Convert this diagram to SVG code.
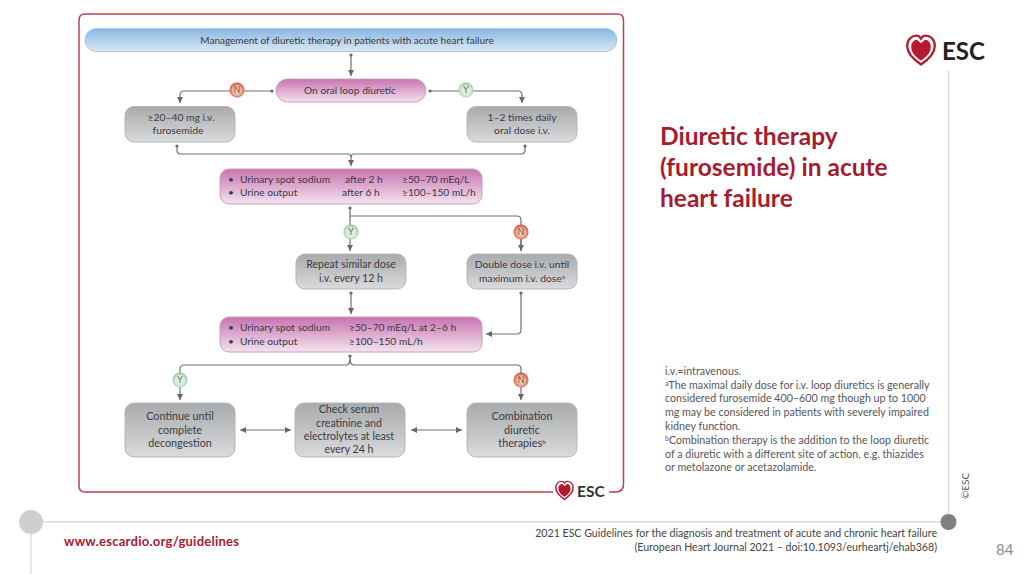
<svg xmlns="http://www.w3.org/2000/svg" width="1024" height="574" viewBox="0 0 1024 574">
<style>
text{font-family:Lato,"Liberation Sans",sans-serif;fill:#3a3a44}
.n{font-size:10.3px;text-anchor:middle}
.m{font-size:10.6px;text-anchor:middle}
.w{font-size:10.8px;text-anchor:middle}
.b{font-size:10.2px}
.c{fill:none;stroke:#6f7072;stroke-width:1.2}
.g{fill:url(#gray);stroke:#b4b6b8;stroke-width:1}
.p{fill:url(#pink);stroke:#c9a0c0;stroke-width:1}
.f{font-size:10.7px;fill:#55565a}
.l{font-size:8.5px;text-anchor:middle;fill:#6b5a50}
.hl{stroke:#dcdcdc;stroke-width:1.4;fill:none}
</style>
<defs>
<linearGradient id="gray" x1="0" y1="0" x2="0" y2="1"><stop offset="0" stop-color="#a9aaac"/><stop offset="1" stop-color="#dadbdc"/></linearGradient>
<linearGradient id="pink" x1="0" y1="0" x2="0" y2="1"><stop offset="0" stop-color="#c873b0"/><stop offset="1" stop-color="#f3e3ef"/></linearGradient>
<linearGradient id="blue" x1="0" y1="0" x2="0" y2="1"><stop offset="0" stop-color="#86b6e2"/><stop offset="1" stop-color="#dce9f5"/></linearGradient>
<radialGradient id="red" cx=".5" cy=".55" r=".55"><stop offset="0" stop-color="#f6e3da"/><stop offset=".6" stop-color="#eaa78e"/><stop offset="1" stop-color="#c9492c"/></radialGradient>
<radialGradient id="green" cx=".5" cy=".55" r=".55"><stop offset="0" stop-color="#f1f8f1"/><stop offset=".65" stop-color="#cfe8d2"/><stop offset="1" stop-color="#84c08f"/></radialGradient>
<marker id="a" markerWidth="7" markerHeight="6" refX="6" refY="3" orient="auto-start-reverse" markerUnits="userSpaceOnUse"><path d="M0 0L6 3L0 6Z" fill="#66676a"/></marker>
<marker id="d" markerWidth="4" markerHeight="4" refX="2" refY="2" markerUnits="userSpaceOnUse"><circle cx="2" cy="2" r="1.6" fill="#66676a"/></marker>
<g id="heart"><path d="M0 13C-6 9-12 4-12-3C-12-9-8-12-4-12C-2-12-1-11 0-9.500C1-11 2-12 4-12C8-12 12-9 12-3C12 4 6 9 0 13Z" fill="#fff" stroke="#b5182f" stroke-width="2"/><path d="M0 9.500C-4 7-8.500 3-8.500-2.500C-8.500-6-6-8.500-3.500-8.500L0-5.500L3.500-8.500C6-8.500 8.500-6 8.500-2.500C8.500 3 4 7 0 9.500Z" fill="#b5182f"/></g>
</defs>
<rect width="1024" height="574" fill="#fff"/>

<g id="slide-lines">
<path class="hl" d="M31 522H948M31 522V574M948.500 70V522"/>
<circle cx="31" cy="522" r="12" fill="#cfcfcf"/>
<circle cx="948.500" cy="522" r="8" fill="#7f7f7f"/>
</g>

<path id="frame" d="M553 492H85Q79 492 79 486V20Q79 14 85 14H617.500Q623.500 14 623.500 20V484Q623.500 492 615.500 492H609" fill="none" stroke="#b8424f" stroke-width="1.500"/>

<g id="connectors">
<path class="c" marker-start="url(#d)" marker-end="url(#a)" d="M351 55V76"/>
<path class="c" marker-start="url(#d)" marker-end="url(#a)" d="M272 91H184Q180 91 180 95V103"/>
<path class="c" marker-start="url(#d)" marker-end="url(#a)" d="M430 91H518Q522 91 522 95V103"/>
<path class="c" marker-start="url(#d)" d="M177 146V150Q177 154 181 154H348Q351 154 351 157"/>
<path class="c" marker-start="url(#d)" d="M525 146V150Q525 154 521 154H354Q351 154 351 157"/>
<path class="c" marker-end="url(#a)" d="M351 157V166"/>
<path class="c" marker-start="url(#d)" marker-end="url(#a)" d="M350 208V251"/>
<path class="c" d="M350 216H517Q521 216 521 220V251"/>
<path class="c" marker-end="url(#a)" d="M521 232V251"/>
<path class="c" marker-start="url(#d)" marker-end="url(#a)" d="M351 293V314"/>
<path class="c" marker-start="url(#d)" marker-end="url(#a)" d="M521 293V330Q521 334 517 334H486"/>
<path class="c" marker-start="url(#d)" d="M350 356V359Q350 365 354 365H517Q521 365 521 369V376"/>
<path class="c" d="M350 359Q350 365 346 365H184Q180 365 180 369V376"/>
<path class="c" marker-end="url(#a)" d="M180 385V400"/>
<path class="c" marker-end="url(#a)" d="M521 385V400"/>
<path class="c" marker-start="url(#a)" marker-end="url(#a)" d="M240 430H291"/>
<path class="c" marker-start="url(#a)" marker-end="url(#a)" d="M411 430H462"/>
</g>

<g id="n-banner"><rect x="85" y="28.500" width="532" height="23" rx="11.500" fill="url(#blue)" stroke="#a9c9e5"/><text x="347" y="43.500" text-anchor="middle" font-size="10">Management of diuretic therapy in patients with acute heart failure</text></g>
<g id="n-oral"><rect class="p" x="276" y="79" width="150" height="23" rx="11.500"/><text x="350" y="93.500" text-anchor="middle" font-size="10.200">On oral loop diuretic</text></g>
<g id="n-left"><rect class="g" x="125" y="106.500" width="110" height="35.500" rx="9"/><text class="n" x="181" y="120.500">≥20–40 mg i.v.</text><text class="n" x="178" y="133.500">furosemide</text></g>
<g id="n-right"><rect class="g" x="467" y="106.500" width="110" height="35.500" rx="9"/><text class="n" x="522" y="120.500">1–2 times daily</text><text class="n" x="522" y="133.500">oral dose i.v.</text></g>
<g id="n-urine1"><rect class="p" x="220" y="169" width="262" height="35" rx="9"/>
<text class="b" x="228" y="183">•</text><text class="b" x="240" y="183">Urinary spot sodium</text><text class="b" x="345" y="183">after 2 h</text><text class="b" x="402" y="183">≥50–70 mEq/L</text>
<text class="b" x="228" y="196">•</text><text class="b" x="240" y="196">Urine output</text><text class="b" x="342" y="196">after 6 h</text><text class="b" x="402" y="196">≥100–150 mL/h</text></g>
<g id="n-repeat"><rect class="g" x="296" y="254" width="110" height="35" rx="9"/><text class="m" x="351" y="268">Repeat similar dose</text><text class="m" x="351" y="281.500">i.v. every 12 h</text></g>
<g id="n-double"><rect class="g" x="467" y="254" width="110" height="35" rx="9"/><text class="n" x="522" y="268">Double dose i.v. until</text><text class="n" x="522" y="281.500">maximum i.v. dose<tspan font-size="6.500" dy="-3">a</tspan></text></g>
<g id="n-urine2"><rect class="p" x="220" y="317" width="262" height="35" rx="9"/>
<text class="b" x="228" y="331">•</text><text class="b" x="240" y="331">Urinary spot sodium</text><text class="b" x="349" y="331">≥50–70 mEq/L at 2–6 h</text>
<text class="b" x="228" y="345">•</text><text class="b" x="240" y="345">Urine output</text><text class="b" x="349" y="345">≥100–150 mL/h</text></g>
<g id="n-continue"><rect class="g" x="125" y="403" width="110" height="54" rx="9"/><text class="w" x="180" y="420">Continue until</text><text class="w" x="180" y="433.500">complete</text><text class="w" x="180" y="447">decongestion</text></g>
<g id="n-check"><rect class="g" x="295" y="403" width="110" height="54" rx="9"/><text class="m" x="349" y="413">Check serum</text><text class="m" x="349" y="426.500">creatinine and</text><text class="m" x="349" y="440">electrolytes at least</text><text class="m" x="349" y="453">every 24 h</text></g>
<g id="n-combo"><rect class="g" x="467" y="403" width="110" height="54" rx="9"/><text class="w" x="522" y="420">Combination</text><text class="w" x="522" y="433.500">diuretic</text><text class="w" x="522" y="447">therapies<tspan font-size="6.500" dy="-3">b</tspan></text></g>

<g id="badge-n1"><circle cx="237" cy="90" r="7.500" fill="url(#red)"/><text class="l" x="237" y="93">N</text></g>
<g id="badge-y1"><circle cx="466" cy="90" r="7.500" fill="url(#green)"/><text class="l" x="466" y="93">Y</text></g>
<g id="badge-y2"><circle cx="351" cy="232" r="7.500" fill="url(#green)"/><text class="l" x="351" y="235">Y</text></g>
<g id="badge-n2"><circle cx="521" cy="232" r="7.500" fill="url(#red)"/><text class="l" x="521" y="235">N</text></g>
<g id="badge-y3"><circle cx="180" cy="380" r="7.500" fill="url(#green)"/><text class="l" x="180" y="383">Y</text></g>
<g id="badge-n3"><circle cx="521" cy="380" r="7.500" fill="url(#red)"/><text class="l" x="521" y="383">N</text></g>

<g id="logo-small"><use href="#heart" transform="translate(564.500 490) scale(.72)"/><text x="577" y="497" style="font-size:15.500px;font-weight:700;fill:#333;font-family:Lato,sans-serif">ESC</text></g>
<g id="logo-large"><use href="#heart" transform="translate(921 49.500) scale(1.150)"/><text x="942" y="60" style="font-size:24px;font-weight:700;fill:#222;font-family:Lato,sans-serif">ESC</text></g>

<g id="title" style="font-size:24.500px;font-weight:700"><text x="660" y="145" style="fill:#a51c30">Diuretic therapy</text><text x="660" y="176" style="fill:#a51c30">(furosemide) in acute</text><text x="660" y="207" style="fill:#a51c30">heart failure</text></g>

<g id="notes">
<text class="f" x="665" y="375">i.v.=intravenous.</text>
<text class="f" x="665" y="389"><tspan font-size="7" dy="-3">a</tspan><tspan dy="3">The maximal daily dose for i.v. loop diuretics is generally</tspan></text>
<text class="f" x="665" y="402">considered furosemide 400–600 mg though up to 1000</text>
<text class="f" x="665" y="416">mg may be considered in patients with severely impaired</text>
<text class="f" x="665" y="430">kidney function.</text>
<text class="f" x="665" y="444"><tspan font-size="7" dy="-3">b</tspan><tspan dy="3">Combination therapy is the addition to the loop diuretic</tspan></text>
<text class="f" x="665" y="458">of a diuretic with a different site of action, e.g. thiazides</text>
<text class="f" x="665" y="471">or metolazone or acetazolamide.</text>
</g>
<text id="copyright" transform="translate(969 499) rotate(-90)" style="font-size:10px;fill:#555">©ESC</text>
<text id="url" x="64" y="546" style="font-size:13px;font-weight:700;fill:#a51c30;letter-spacing:.25px">www.escardio.org/guidelines</text>
<g id="citation" style="font-size:10.600px"><text x="937" y="537" text-anchor="end" style="fill:#444">2021 ESC Guidelines for the diagnosis and treatment of acute and chronic heart failure</text><text x="937" y="551" text-anchor="end" style="fill:#444">(European Heart Journal 2021 – doi:10.1093/eurheartj/ehab368)</text></g>
<text id="page" x="996" y="555" style="font-size:15px;fill:#8a8a8a">84</text>
</svg>
